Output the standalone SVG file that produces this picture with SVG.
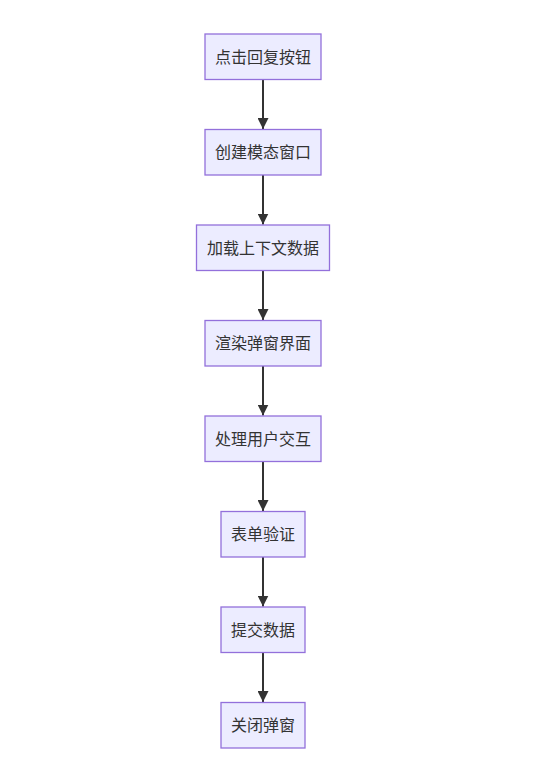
<svg xmlns="http://www.w3.org/2000/svg" width="544" height="777" viewBox="0 0 544 777">
<style>
.node rect{fill:#ECECFF;stroke:#9370DB;stroke-width:1.3px;}
.node text{font-family:"Noto Sans CJK SC","Liberation Sans",sans-serif;font-size:16px;fill:#333;text-anchor:middle;}
.edge{stroke:#333;stroke-width:2px;fill:none;}
</style>
<defs>
<marker id="arrow" viewBox="0 0 10 10" refX="10" refY="5" markerUnits="userSpaceOnUse" markerWidth="11" markerHeight="11" orient="auto">
<path d="M0,0 L10,5 L0,10 z" fill="#333"/>
</marker>
</defs>
<rect width="544" height="777" fill="#ffffff"/>
<g id="connectors">
<path class="edge" d="M263,79.5 L263,129" marker-end="url(#arrow)"/>
<path class="edge" d="M263,175 L263,224.5" marker-end="url(#arrow)"/>
<path class="edge" d="M263,270.5 L263,320" marker-end="url(#arrow)"/>
<path class="edge" d="M263,366 L263,415.5" marker-end="url(#arrow)"/>
<path class="edge" d="M263,461.5 L263,511" marker-end="url(#arrow)"/>
<path class="edge" d="M263,557 L263,606.5" marker-end="url(#arrow)"/>
<path class="edge" d="M263,652.5 L263,702" marker-end="url(#arrow)"/>
</g>
<g id="n1" class="node"><rect x="205" y="34" width="116" height="45.5"/><text x="263" y="62.5">点击回复按钮</text></g>
<g id="n2" class="node"><rect x="205" y="129.5" width="116" height="45.5"/><text x="263" y="158">创建模态窗口</text></g>
<g id="n3" class="node"><rect x="196.5" y="225" width="133" height="45.5"/><text x="263" y="253.5">加载上下文数据</text></g>
<g id="n4" class="node"><rect x="205" y="320.5" width="116" height="45.5"/><text x="263" y="349">渲染弹窗界面</text></g>
<g id="n5" class="node"><rect x="205" y="416" width="116" height="45.5"/><text x="263" y="444.5">处理用户交互</text></g>
<g id="n6" class="node"><rect x="221" y="511.5" width="84" height="45.5"/><text x="263" y="540">表单验证</text></g>
<g id="n7" class="node"><rect x="221" y="607" width="84" height="45.5"/><text x="263" y="635.5">提交数据</text></g>
<g id="n8" class="node"><rect x="221" y="702.5" width="84" height="45.5"/><text x="263" y="731">关闭弹窗</text></g>
</svg>
